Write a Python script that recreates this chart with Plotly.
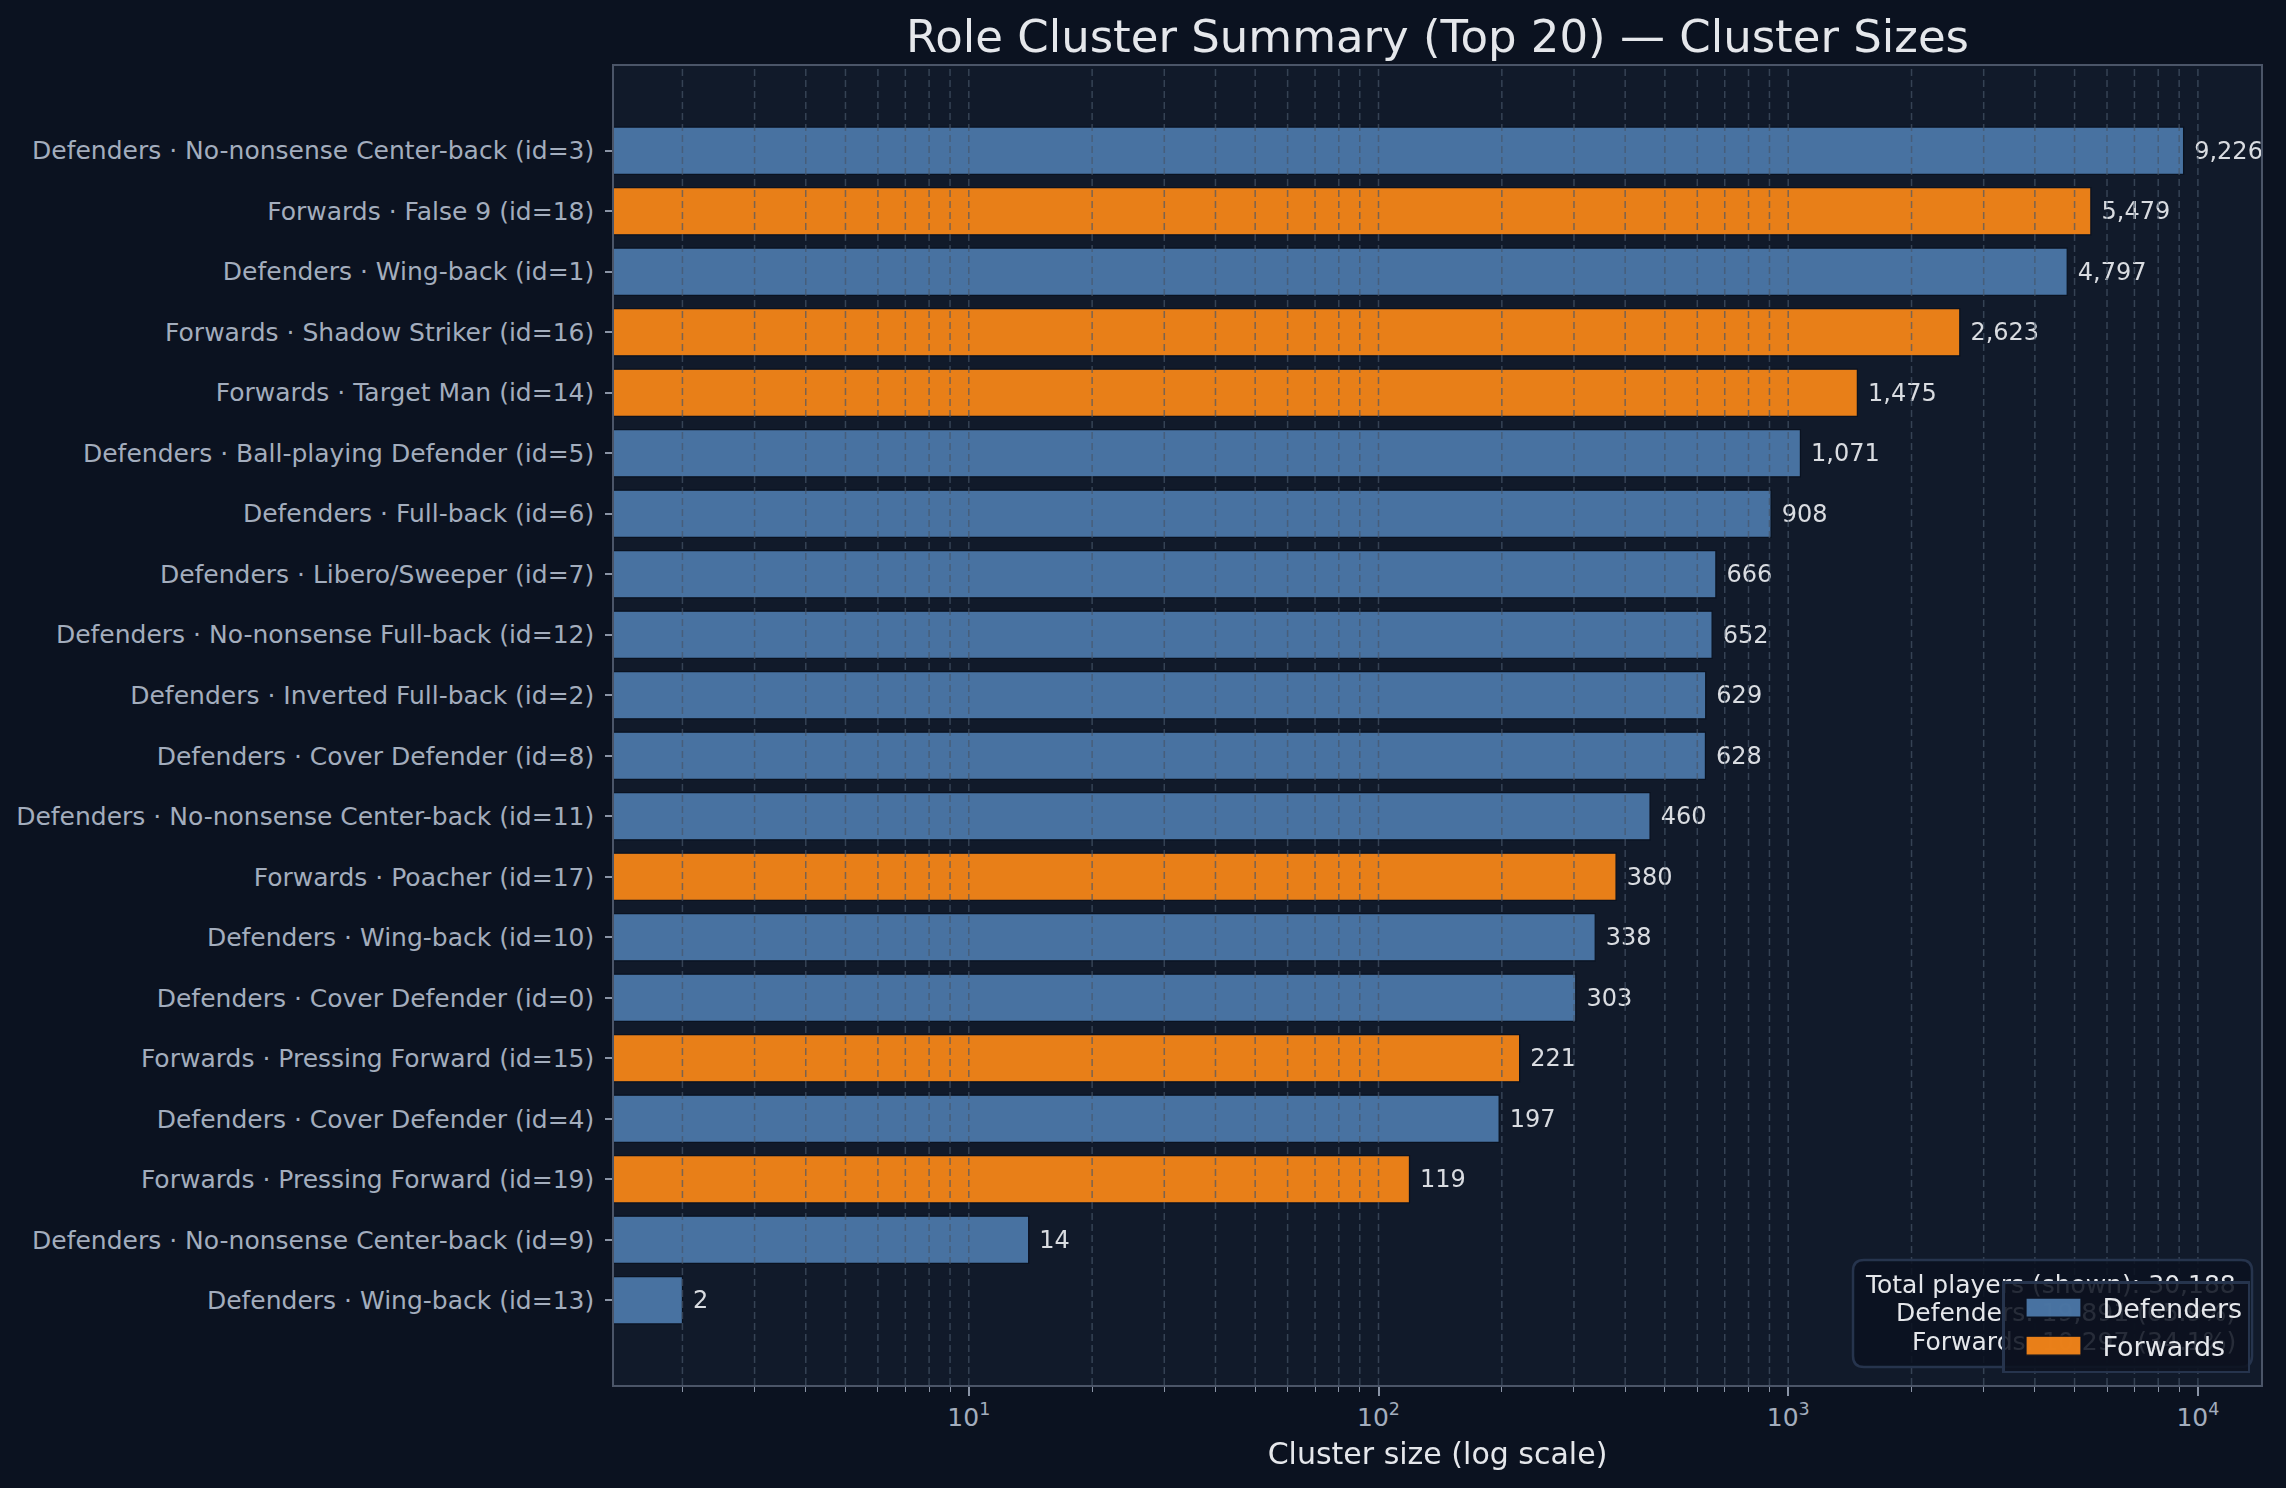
import plotly.graph_objects as go

# cluster data (top 20 by size)
labels = [
    "Defenders · No-nonsense Center-back (id=3)",
    "Forwards · False 9 (id=18)",
    "Defenders · Wing-back (id=1)",
    "Forwards · Shadow Striker (id=16)",
    "Forwards · Target Man (id=14)",
    "Defenders · Ball-playing Defender (id=5)",
    "Defenders · Full-back (id=6)",
    "Defenders · Libero/Sweeper (id=7)",
    "Defenders · No-nonsense Full-back (id=12)",
    "Defenders · Inverted Full-back (id=2)",
    "Defenders · Cover Defender (id=8)",
    "Defenders · No-nonsense Center-back (id=11)",
    "Forwards · Poacher (id=17)",
    "Defenders · Wing-back (id=10)",
    "Defenders · Cover Defender (id=0)",
    "Forwards · Pressing Forward (id=15)",
    "Defenders · Cover Defender (id=4)",
    "Forwards · Pressing Forward (id=19)",
    "Defenders · No-nonsense Center-back (id=9)",
    "Defenders · Wing-back (id=13)",
]
sizes = [9226, 5479, 4797, 2623, 1475, 1071, 908, 666, 652, 629,
         628, 460, 380, 338, 303, 221, 197, 119, 14, 2]
groups = [lab.split(" · ")[0] for lab in labels]

colors = {"Defenders": "#4C78A8", "Forwards": "#F58518"}
PAPER = "#0b1220"
PLOT = "#111a2a"
TXT = "#e5e7eb"
MUTED = "#a3adbd"
BOXBG = "rgba(11,18,32,0.85)"
BOXLINE = "#26344d"

W, H = 2286, 1488
ML, MR, MT, MB = 614, 25, 66, 103
PW, PH = W - ML - MR, H - MT - MB

fig = go.Figure()
for g in ["Defenders", "Forwards"]:
    ys = [l for l, gg in zip(labels, groups) if gg == g]
    xs = [s for s, gg in zip(sizes, groups) if gg == g]
    fig.add_trace(go.Bar(
        y=ys, x=xs, orientation="h", name=g,
        marker=dict(color=colors[g], line=dict(color=PAPER, width=1.2)),
        opacity=0.95, width=0.78,
        texttemplate=" %{x:,}", textposition="outside",
        outsidetextfont=dict(size=24, color=TXT, family="DejaVu Sans"),
        constraintext="none", cliponaxis=False,
        hoverinfo="x+y",
    ))

total = sum(sizes)
n_def = sum(s for s, g in zip(sizes, groups) if g == "Defenders")
n_fwd = total - n_def
summary_lines = [
    f"Total players (shown): {total:,}",
    f"Defenders: {n_def:,} ({100*n_def/total:.1f}%)",
    f"Forwards: {n_fwd:,} ({100*n_fwd/total:.1f}%)",
]

# dashed grid drawn on top of bars (major + minor log ticks)
grid_x = []
for dec in [1, 10, 100, 1000]:
    for m in range(1, 10):
        v = m * dec
        if v >= 2:
            grid_x.append(v)
grid_x.append(10000)
for v in grid_x:
    fig.add_shape(type="line", xref="x", yref="paper", x0=v, x1=v, y0=0, y1=1,
                  line=dict(color="rgba(71,85,105,0.68)", width=1.5, dash="7px,4px"),
                  layer="above")


def px_x(p):
    return (p - ML) / PW


def px_y(p):
    return (MT + PH - p) / PH


def rounded_box(x0, y0, x1, y1, r=11):
    # pixel coords -> paper path with rounded corners
    rx, ry = r / PW, r / PH
    a, b, c, d = px_x(x0), px_y(y1), px_x(x1), px_y(y0)
    return (f"M {a+rx},{b} L {c-rx},{b} Q {c},{b} {c},{b+ry} "
            f"L {c},{d-ry} Q {c},{d} {c-rx},{d} L {a+rx},{d} Q {a},{d} {a},{d-ry} "
            f"L {a},{b+ry} Q {a},{b} {a+rx},{b} Z")


# summary text box
fig.add_shape(type="path", xref="paper", yref="paper",
              path=rounded_box(1853, 1260, 2252, 1367),
              fillcolor=BOXBG, line=dict(color=BOXLINE, width=2.5), layer="above")
for i, line in enumerate(summary_lines):
    fig.add_annotation(
        xref="paper", yref="paper", x=px_x(2238), y=px_y(1284 + 28.5 * i),
        xanchor="right", yanchor="middle", text=line, showarrow=False,
        font=dict(size=25, color=TXT, family="DejaVu Sans"),
    )

fig.update_layout(
    width=W, height=H,
    paper_bgcolor=PAPER, plot_bgcolor=PLOT,
    margin=dict(l=ML, r=MR, t=MT, b=MB),
    barmode="overlay",
    font=dict(family="DejaVu Sans", color=TXT),
    title=dict(text="Role Cluster Summary (Top 20) — Cluster Sizes",
               x=0.5, xref="paper", xanchor="center", y=1 - 36 / H, yanchor="middle",
               font=dict(size=45, color=TXT)),
    legend=dict(x=px_x(2250), y=px_y(1373), xanchor="right", yanchor="bottom",
                bgcolor="rgba(12,18,32,0.88)", bordercolor=BOXLINE, borderwidth=2.5,
                font=dict(size=27, color=TXT), itemwidth=88, traceorder="normal"),
    showlegend=True,
)

fig.update_xaxes(
    type="log", range=[0.134, 4.154],
    tickvals=[10, 100, 1000, 10000],
    ticktext=["10<sup>1</sup>", "10<sup>2</sup>", "10<sup>3</sup>", "10<sup>4</sup>"],
    tickfont=dict(size=25, color=MUTED),
    ticks="outside", ticklen=9, tickwidth=1.5, tickcolor="#8a94a6",
    minor=dict(ticks="outside", ticklen=5, tickwidth=1, tickcolor="#8a94a6",
               tickvals=[v for v in grid_x if v not in (10, 100, 1000, 10000)],
               showgrid=False),
    showgrid=False, zeroline=False,
    showline=True, linecolor="#4b5568", linewidth=1.5, mirror=True,
    title=dict(text="Cluster size (log scale)", font=dict(size=30, color=TXT), standoff=12),
)
fig.update_yaxes(
    type="category", categoryorder="array", categoryarray=labels,
    range=[len(labels) - 1 + 1.4, -1.4],
    tickfont=dict(size=25, color=MUTED),
    ticks="outside", ticklen=7, tickwidth=1.5, tickcolor="#8a94a6",
    ticklabelstandoff=6,
    showgrid=False, zeroline=False,
    showline=True, linecolor="#4b5568", linewidth=1.5, mirror=True,
)

# page without margins; legend painted over the summary box with wide patches
post = """
document.body.style.margin = '0';
document.body.style.background = '#0b1220';
var leg = document.querySelector('g.legend');
if (leg) {
  leg.parentNode.appendChild(leg);
  leg.querySelectorAll('.legendpoints path').forEach(function(p) {
    p.setAttribute('d', 'M27.5,9.5H-27.5V-9.5H27.5Z');
  });
}
"""
fig.write_html("out.html", post_script=post, config={"displayModeBar": False})
